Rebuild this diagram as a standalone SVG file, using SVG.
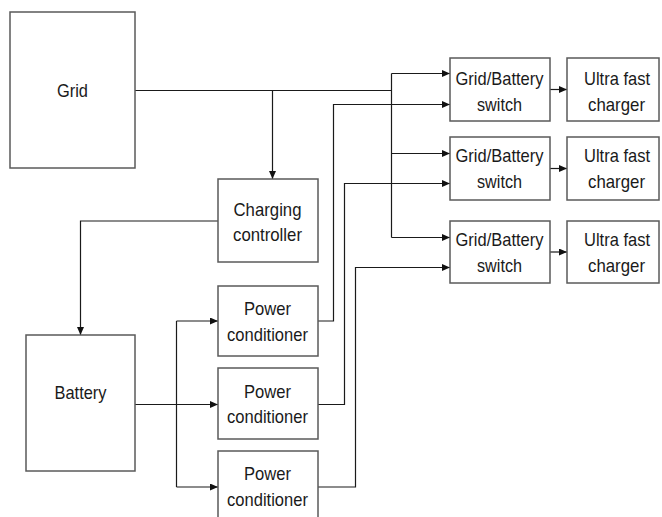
<svg xmlns="http://www.w3.org/2000/svg" width="662" height="517" viewBox="0 0 662 517">
<style>
.box{fill:#fff;stroke:#5a5a5a;stroke-width:1.5}
.ln{fill:none;stroke:#1a1a1a;stroke-width:1.2}
.t{font-family:"Liberation Sans",Arial,sans-serif;font-size:19px;fill:#1a1a1a;text-anchor:middle}
</style>
<defs>
<marker id="ah" markerUnits="userSpaceOnUse" markerWidth="9" markerHeight="8" refX="8" refY="3.5" orient="auto">
<path d="M0,0 L8,3.5 L0,7 z" fill="#111"/>
</marker>
</defs>
<rect width="662" height="517" fill="#fff"/>
<g id="connectors">
<path class="ln" d="M135,90.5 H391.5"/>
<path class="ln" d="M391.5,73.5 V237.5"/>
<path class="ln" d="M391.5,73.5 H450" marker-end="url(#ah)"/>
<path class="ln" d="M391.5,153.5 H450" marker-end="url(#ah)"/>
<path class="ln" d="M391.5,237.5 H450" marker-end="url(#ah)"/>
<path class="ln" d="M272.5,90.5 V179" marker-end="url(#ah)"/>
<path class="ln" d="M218,221 H80.5 V335" marker-end="url(#ah)"/>
<path class="ln" d="M135,404.5 H218" marker-end="url(#ah)"/>
<path class="ln" d="M176.5,321 V487"/>
<path class="ln" d="M176.5,321 H218" marker-end="url(#ah)"/>
<path class="ln" d="M176.5,487 H218" marker-end="url(#ah)"/>
<path class="ln" d="M318,321 H333.5 V104.5 H450" marker-end="url(#ah)"/>
<path class="ln" d="M318,404.5 H344.5 V183.5 H450" marker-end="url(#ah)"/>
<path class="ln" d="M318,487 H355.5 V267.5 H450" marker-end="url(#ah)"/>
<path class="ln" d="M550,89.5 H567" marker-end="url(#ah)"/>
<path class="ln" d="M550,168.5 H567" marker-end="url(#ah)"/>
<path class="ln" d="M550,252 H567" marker-end="url(#ah)"/>
</g>
<g id="grid"><rect class="box" x="10" y="12" width="125" height="156"/><text class="t" x="72.5" y="97" textLength="31" lengthAdjust="spacingAndGlyphs">Grid</text></g>
<g id="charging-controller"><rect class="box" x="218" y="179" width="100" height="83"/><text class="t" x="267.5" y="216" textLength="68" lengthAdjust="spacingAndGlyphs">Charging</text><text class="t" x="267.5" y="241" textLength="69" lengthAdjust="spacingAndGlyphs">controller</text></g>
<g id="battery"><rect class="box" x="26" y="335" width="109" height="136"/><text class="t" x="80.5" y="399" textLength="52" lengthAdjust="spacingAndGlyphs">Battery</text></g>
<g id="pc1"><rect class="box" x="218" y="286" width="100" height="70"/><text class="t" x="267.5" y="315" textLength="47" lengthAdjust="spacingAndGlyphs">Power</text><text class="t" x="267.5" y="341" textLength="81" lengthAdjust="spacingAndGlyphs">conditioner</text></g>
<g id="pc2"><rect class="box" x="218" y="368" width="100" height="71"/><text class="t" x="267.5" y="398" textLength="47" lengthAdjust="spacingAndGlyphs">Power</text><text class="t" x="267.5" y="423" textLength="81" lengthAdjust="spacingAndGlyphs">conditioner</text></g>
<g id="pc3"><rect class="box" x="218" y="451" width="100" height="72"/><text class="t" x="267.5" y="480" textLength="47" lengthAdjust="spacingAndGlyphs">Power</text><text class="t" x="267.5" y="506" textLength="81" lengthAdjust="spacingAndGlyphs">conditioner</text></g>
<g id="switch1"><rect class="box" x="450" y="58" width="100" height="63"/><text class="t" x="499.5" y="85" textLength="88" lengthAdjust="spacingAndGlyphs">Grid/Battery</text><text class="t" x="499.5" y="110.5" textLength="45" lengthAdjust="spacingAndGlyphs">switch</text></g>
<g id="switch2"><rect class="box" x="450" y="137" width="100" height="63"/><text class="t" x="499.5" y="162" textLength="88" lengthAdjust="spacingAndGlyphs">Grid/Battery</text><text class="t" x="499.5" y="188" textLength="45" lengthAdjust="spacingAndGlyphs">switch</text></g>
<g id="switch3"><rect class="box" x="450" y="221" width="100" height="62"/><text class="t" x="499.5" y="245.5" textLength="88" lengthAdjust="spacingAndGlyphs">Grid/Battery</text><text class="t" x="499.5" y="271.5" textLength="45" lengthAdjust="spacingAndGlyphs">switch</text></g>
<g id="charger1"><rect class="box" x="567" y="58" width="92" height="63"/><text class="t" x="617" y="85" textLength="66" lengthAdjust="spacingAndGlyphs">Ultra fast</text><text class="t" x="616.5" y="110.5" textLength="57" lengthAdjust="spacingAndGlyphs">charger</text></g>
<g id="charger2"><rect class="box" x="567" y="137" width="92" height="63"/><text class="t" x="617" y="162" textLength="66" lengthAdjust="spacingAndGlyphs">Ultra fast</text><text class="t" x="616.5" y="188" textLength="57" lengthAdjust="spacingAndGlyphs">charger</text></g>
<g id="charger3"><rect class="box" x="567" y="221" width="92" height="62"/><text class="t" x="617" y="245.5" textLength="66" lengthAdjust="spacingAndGlyphs">Ultra fast</text><text class="t" x="616.5" y="271.5" textLength="57" lengthAdjust="spacingAndGlyphs">charger</text></g>
</svg>
